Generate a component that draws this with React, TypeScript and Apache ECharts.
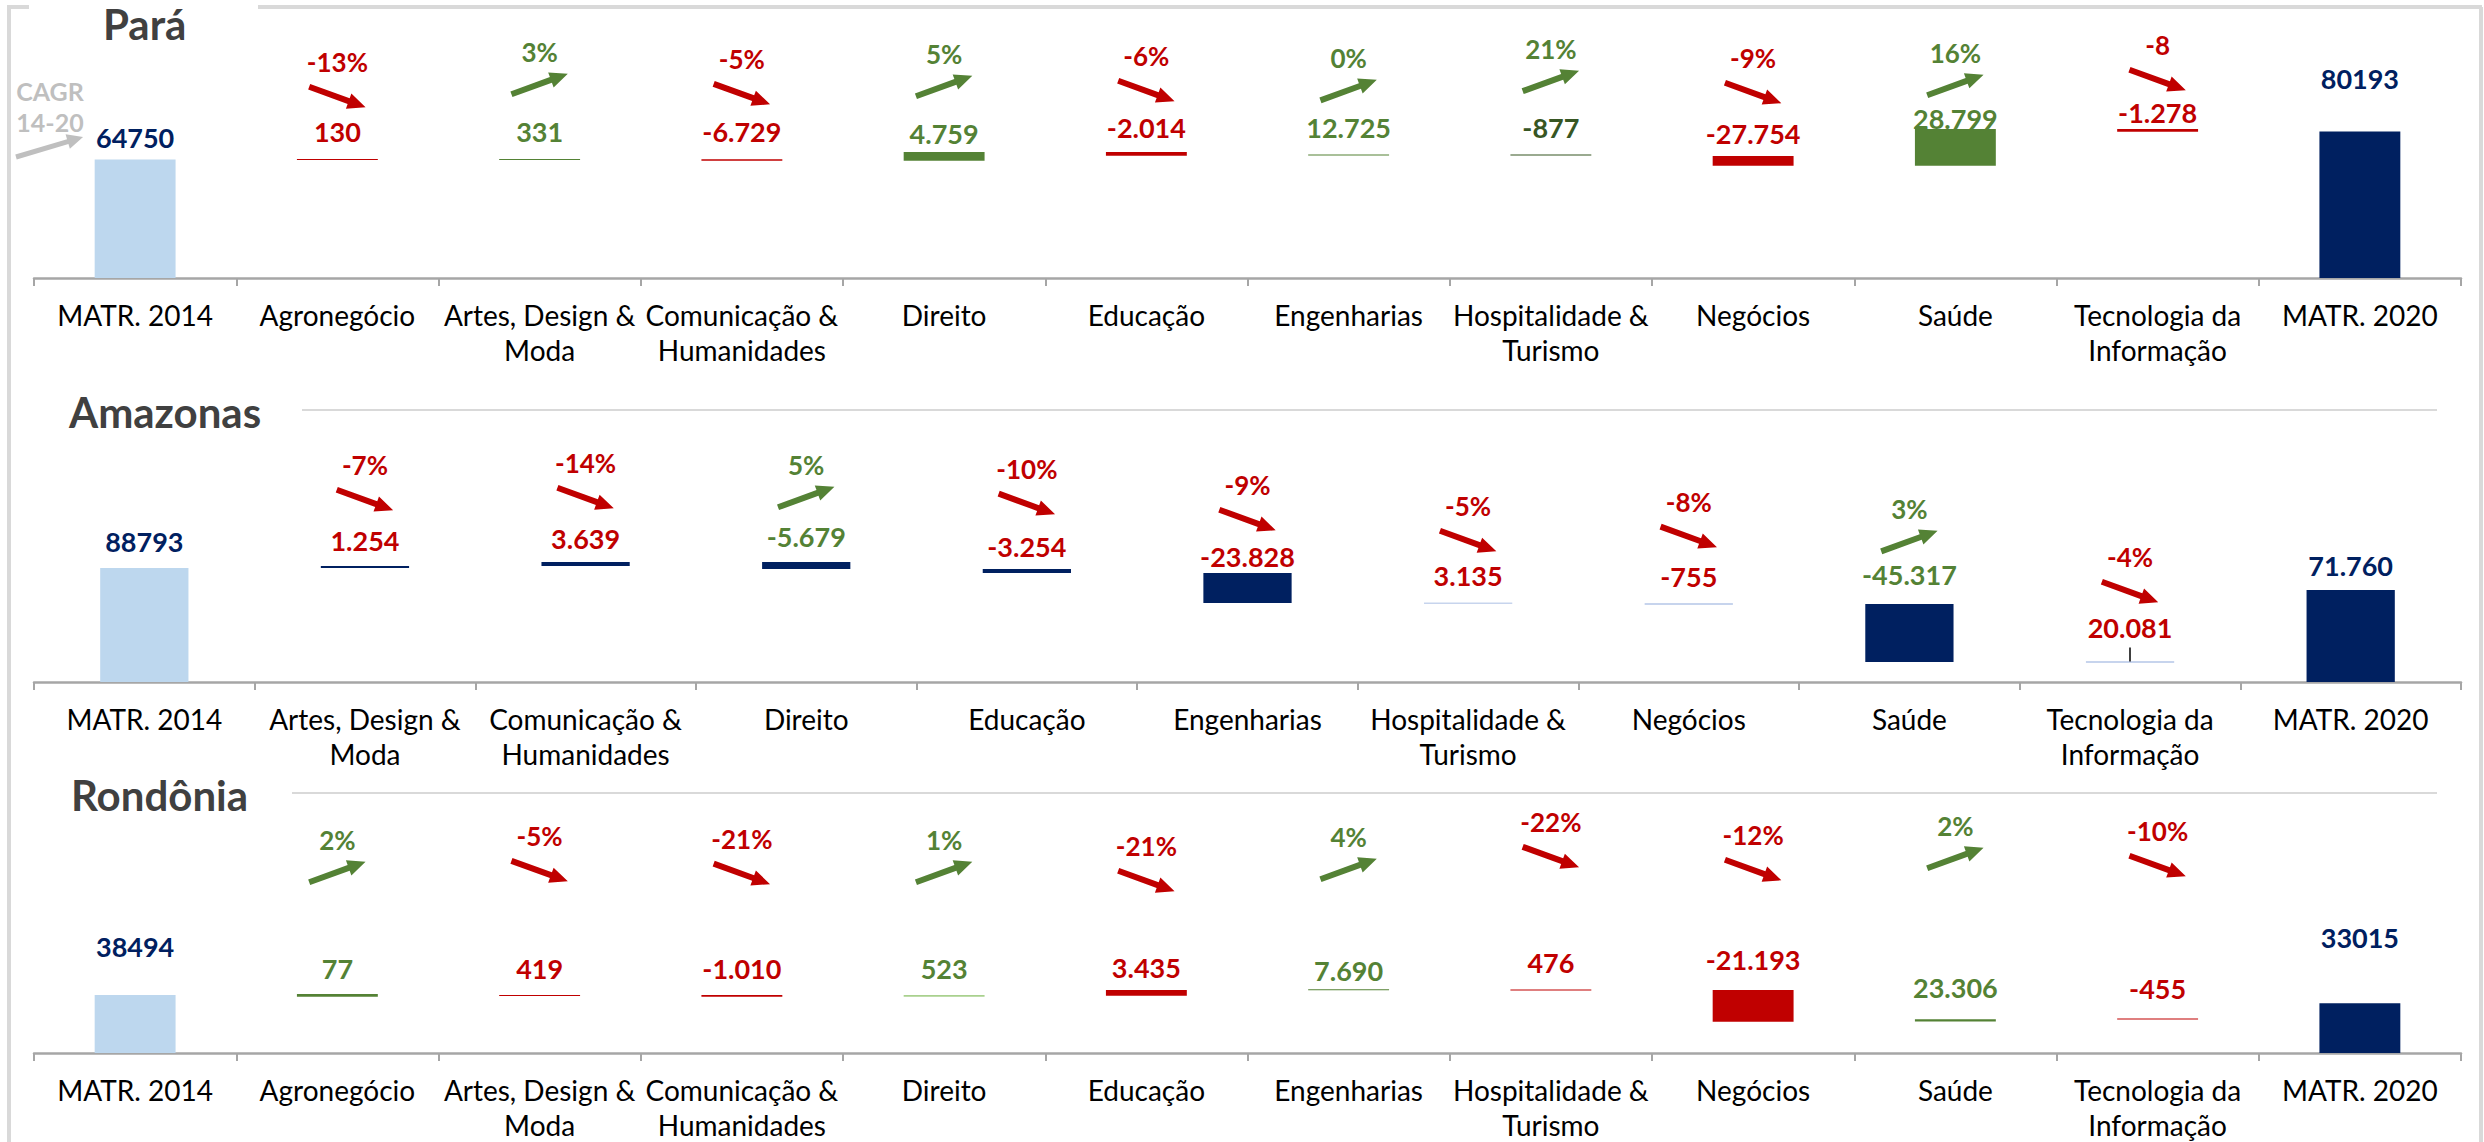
import React, { useEffect, useRef } from 'react';
import * as echarts from 'echarts';

// ---------------- Pará ----------------
const paraCategories = ['MATR. 2014', 'Agronegócio', 'Artes, Design &\nModa', 'Comunicação &\nHumanidades', 'Direito', 'Educação', 'Engenharias', 'Hospitalidade &\nTurismo', 'Negócios', 'Saúde', 'Tecnologia da\nInformação', 'MATR. 2020'];
const paraBarLow = [0, 64550, 64550, 64150, 64150, 66900, 67000, 67000, 61400, 61400, 80000, 0];
const paraBarHigh = [64750, 65100, 65100, 64950, 68900, 68900, 67550, 67550, 66750, 81500, 81500, 80193];
const paraBarKinds = ['start', 'down', 'up', 'down', 'up', 'down', 'up', 'upDark', 'down', 'up', 'down', 'end'];
const paraValueLabels = ['64750', '130', '331', '-6.729', '4.759', '-2.014', '12.725', '-877', '-27.754', '28.799', '-1.278', '80193'];
const paraValueKinds = ['n', 'r', 'g', 'r', 'g', 'r', 'g', 'dg', 'r', 'g', 'r', 'n'];
const paraValueLevels = [77100, 79900, 79900, 79900, 79300, 82100, 82100, 82100, 79300, 87500, 90300, 108900];
const paraCagr = ['-13%', '3%', '-5%', '5%', '-6%', '0%', '21%', '-9%', '16%', '-8'];
const paraArrowLevels = [99000, 106100, 100600, 105000, 102300, 102800, 107800, 101200, 105600, 108300];

// ---------------- Amazonas ----------------
const amazonasCategories = ['MATR. 2014', 'Artes, Design &\nModa', 'Comunicação &\nHumanidades', 'Direito', 'Educação', 'Engenharias', 'Hospitalidade &\nTurismo', 'Negócios', 'Saúde', 'Tecnologia da\nInformação', 'MATR. 2020'];
const amazonasBarLow = [0, 88800, 90300, 88000, 84900, 61500, 61100, 60400, 15600, 15200, 0];
const amazonasBarHigh = [88793, 90300, 93500, 93500, 88000, 84900, 61800, 61100, 60800, 15900, 71760];
const amazonasBarKinds = ['start', 'navy', 'navy', 'navy', 'navy', 'navy', 'steel', 'steel', 'navy', 'steel', 'end'];
const amazonasValueLabels = ['88793', '1.254', '3.639', '-5.679', '-3.254', '-23.828', '3.135', '-755', '-45.317', '20.081', '71.760'];
const amazonasValueKinds = ['n', 'r', 'r', 'g', 'r', 'r', 'r', 'r', 'g', 'r', 'n'];
const amazonasValueLevels = [109100, 110600, 111400, 113000, 105900, 97400, 82600, 81800, 83400, 42100, 91100];
const amazonasCagr = ['-7%', '-14%', '5%', '-10%', '-9%', '-5%', '-8%', '3%', '-4%'];
const amazonasArrowLevels = [141800, 143300, 144100, 138700, 126200, 109800, 113000, 109800, 70100];
const amazonasLeader = { category: 9, from: 15900, to: 26800 };

// ---------------- Rondônia ----------------
const rondoniaCategories = ['MATR. 2014', 'Agronegócio', 'Artes, Design &\nModa', 'Comunicação &\nHumanidades', 'Direito', 'Educação', 'Engenharias', 'Hospitalidade &\nTurismo', 'Negócios', 'Saúde', 'Tecnologia da\nInformação', 'MATR. 2020'];
const rondoniaBarLow = [0, 37400, 37900, 37400, 37400, 38000, 41700, 41500, 20800, 21000, 22300, 0];
const rondoniaBarHigh = [38494, 39200, 38550, 38500, 38500, 41800, 42400, 42150, 41800, 22400, 22900, 33015];
const rondoniaBarKinds = ['start', 'up', 'down', 'down', 'pale', 'down', 'up', 'down', 'down', 'up', 'down', 'end'];
const rondoniaValueLabels = ['38494', '77', '419', '-1.010', '523', '3.435', '7.690', '476', '-21.193', '23.306', '-455', '33015'];
const rondoniaValueKinds = ['n', 'g', 'r', 'r', 'g', 'r', 'g', 'r', 'r', 'g', 'r', 'n'];
const rondoniaValueLevels = [70400, 56400, 56400, 56400, 56400, 57100, 55100, 59800, 62400, 43800, 42500, 77000];
const rondoniaCagr = ['2%', '-5%', '-21%', '1%', '-21%', '4%', '-22%', '-12%', '2%', '-10%'];
const rondoniaArrowLevels = [120200, 120800, 118900, 120200, 114200, 122200, 130100, 121500, 129500, 124200];

// ---------------- styles ----------------
const C = {
  navy: '#002060',
  red: '#C00000',
  green: '#548235',
  darkGreen: '#375623',
  lightBlue: '#BDD7EE',
  steel: '#8FAADC',
  paleGreen: '#A9D18E',
  gray: '#BFBFBF',
  frame: '#D9D9D9',
  axis: '#A6A6A6',
  title: '#404040',
};
const barColor: Record<string, string> = {
  start: C.lightBlue, end: C.navy, up: C.green, down: C.red, upDark: C.darkGreen,
  navy: C.navy, steel: C.steel, pale: C.paleGreen,
};
const textColor: Record<string, string> = { n: C.navy, r: C.red, g: C.green, dg: C.darkGreen };
const FONT = 'Lato';
const ARROW = 'path://M0,5 L42,5 L42,0 L60,8 L42,16 L42,11 L0,11 Z';

const panels = [
  { title: 'Pará', categories: paraCategories, low: paraBarLow, high: paraBarHigh, kinds: paraBarKinds, vLabels: paraValueLabels, vKinds: paraValueKinds, vLevels: paraValueLevels, cagr: paraCagr, aLevels: paraArrowLevels, max: 144400, leader: null as any },
  { title: 'Amazonas', categories: amazonasCategories, low: amazonasBarLow, high: amazonasBarHigh, kinds: amazonasBarKinds, vLabels: amazonasValueLabels, vKinds: amazonasValueKinds, vLevels: amazonasValueLevels, cagr: amazonasCagr, aLevels: amazonasArrowLevels, max: 204100, leader: amazonasLeader },
  { title: 'Rondônia', categories: rondoniaCategories, low: rondoniaBarLow, high: rondoniaBarHigh, kinds: rondoniaBarKinds, vLabels: rondoniaValueLabels, vKinds: rondoniaValueKinds, vLevels: rondoniaValueLevels, cagr: rondoniaCagr, aLevels: rondoniaArrowLevels, max: 168000, leader: null as any },
];

const layout = [
  { grid: { left: 34, right: 23, top: 14, bottom: 864 }, title: [103, 24] },
  { grid: { left: 34, right: 23, top: 420, bottom: 460 }, title: [69, 412] },
  { grid: { left: 34, right: 23, top: 800, bottom: 89 }, title: [71, 795] },
];

function buildOption() {
  const grid: any[] = [];
  const xAxis: any[] = [];
  const yAxis: any[] = [];
  const series: any[] = [];

  panels.forEach((p, i) => {
    grid.push({ ...layout[i].grid, containLabel: false });
    xAxis.push({
      type: 'category', gridIndex: i, data: p.categories,
      axisLine: { show: true, lineStyle: { color: C.axis, width: 2.5 } },
      axisTick: { show: true, length: 8, lineStyle: { color: C.axis, width: 2 } },
      axisLabel: { interval: 0, hideOverlap: false, fontFamily: FONT, fontSize: 28, lineHeight: 35, margin: 19, color: '#000' },
      splitLine: { show: false },
    });
    yAxis.push({ type: 'value', gridIndex: i, min: 0, max: p.max, show: false, splitLine: { show: false } });

    series.push({
      type: 'bar', xAxisIndex: i, yAxisIndex: i, stack: 'wf' + i, barWidth: '40%', silent: true, z: 3,
      itemStyle: { color: 'rgba(0,0,0,0)' },
      data: p.low,
    });
    series.push({
      type: 'bar', xAxisIndex: i, yAxisIndex: i, stack: 'wf' + i, barWidth: '40%', silent: true, z: 3,
      data: p.high.map((h, j) => ({ value: h - p.low[j], itemStyle: { color: barColor[p.kinds[j]], opacity: 1 } })),
      markLine: p.leader ? {
        silent: true, symbol: 'none', label: { show: false },
        lineStyle: { color: '#000', width: 1.5, type: 'solid', opacity: 1 },
        data: [[{ coord: [p.leader.category, p.leader.from] }, { coord: [p.leader.category, p.leader.to] }]],
      } : undefined,
    });
    series.push({
      type: 'scatter', xAxisIndex: i, yAxisIndex: i, silent: true, z: 2, clip: false,
      symbol: 'circle', symbolSize: 1, itemStyle: { color: 'rgba(255,255,255,0)', opacity: 1 },
      data: p.vLevels.map((lv, j) => ({
        value: [j, lv],
        label: { show: true, position: 'inside', formatter: p.vLabels[j], color: textColor[p.vKinds[j]], opacity: 1, fontFamily: FONT, fontWeight: 'bold', fontSize: 27 },
      })),
    });
    series.push({
      type: 'scatter', xAxisIndex: i, yAxisIndex: i, silent: true, z: 4, clip: false,
      symbol: ARROW, symbolSize: [60, 16],
      data: p.cagr.map((txt, k) => {
        const down = txt.trim().startsWith('-');
        const col = down ? C.red : C.green;
        return {
          value: [k + 1, p.aLevels[k]],
          symbolRotate: down ? -20 : 20,
          itemStyle: { color: col, opacity: 1 },
          label: { show: true, position: 'inside', offset: [0, down ? -35 : -32], formatter: txt, color: col, opacity: 1, fontFamily: FONT, fontWeight: 'bold', fontSize: 26 },
        };
      }),
    });
  });

  const graphic: any[] = [
    // frame
    { type: 'line', shape: { x1: 9, y1: 7, x2: 9, y2: 1142 }, style: { stroke: C.frame, lineWidth: 4 }, silent: true },
    { type: 'line', shape: { x1: 7, y1: 7, x2: 29, y2: 7 }, style: { stroke: C.frame, lineWidth: 4 }, silent: true },
    { type: 'line', shape: { x1: 258, y1: 7, x2: 2482, y2: 7 }, style: { stroke: C.frame, lineWidth: 4 }, silent: true },
    { type: 'line', shape: { x1: 2481, y1: 7, x2: 2481, y2: 1142 }, style: { stroke: C.frame, lineWidth: 4 }, silent: true },
    // separators
    { type: 'line', shape: { x1: 302, y1: 410, x2: 2437, y2: 410 }, style: { stroke: C.frame, lineWidth: 2 }, silent: true },
    { type: 'line', shape: { x1: 292, y1: 793, x2: 2437, y2: 793 }, style: { stroke: C.frame, lineWidth: 2 }, silent: true },
    // CAGR
    { type: 'text', x: 50, y: 106, silent: true, style: { text: 'CAGR\n14-20', fill: C.gray, fontFamily: FONT, fontWeight: 'bold', fontSize: 25, lineHeight: 31, align: 'center', verticalAlign: 'middle' } },
    { type: 'polygon', x: 16, y: 157, rotation: 0.29, silent: true, shape: { points: [[0, -2.5], [54, -2.5], [54, -7.5], [70, 0], [54, 7.5], [54, 2.5], [0, 2.5]] }, style: { fill: C.gray } },
  ];
  panels.forEach((p, i) => {
    graphic.push({
      type: 'text', x: layout[i].title[0], y: layout[i].title[1], silent: true,
      style: { text: p.title, fill: C.title, fontFamily: FONT, fontWeight: 'bold', fontSize: 42, align: 'left', verticalAlign: 'middle' },
    });
  });

  return { animation: false, backgroundColor: '#fff', grid, xAxis, yAxis, series, graphic };
}

export default function App() {
  const ref = useRef<HTMLDivElement>(null);
  useEffect(() => {
    if (!ref.current) return;
    const chart = echarts.init(ref.current, undefined, { renderer: 'svg' });
    chart.setOption(buildOption());
    return () => chart.dispose();
  }, []);
  return <div ref={ref} style={{ position: 'absolute', left: 0, top: 0, width: 2484, height: 1142, background: '#fff' }} />;
}
